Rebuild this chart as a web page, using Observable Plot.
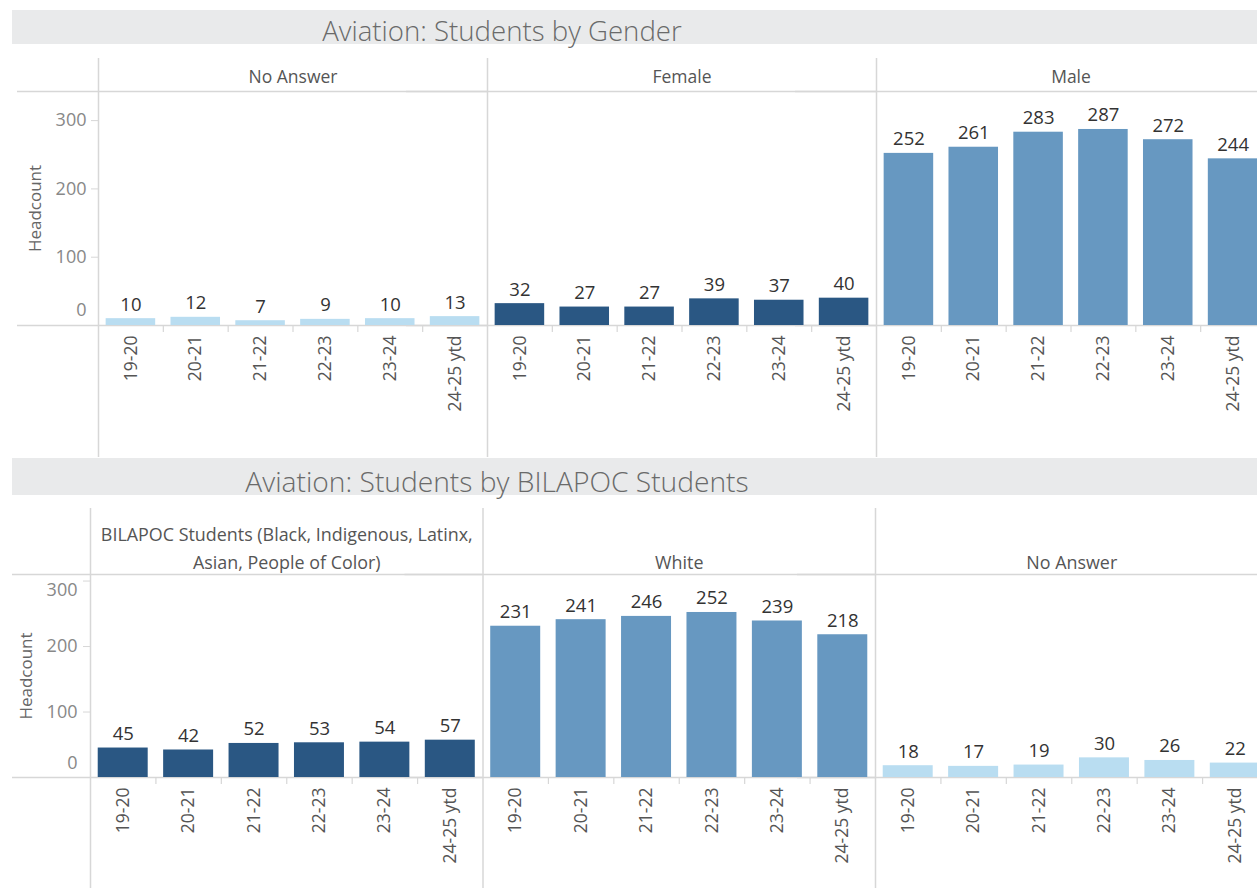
<!DOCTYPE html>
<html>
<head>
<meta charset="utf-8">
<script src="https://cdn.jsdelivr.net/npm/d3@7"></script>
<script src="https://cdn.jsdelivr.net/npm/@observablehq/plot@0.6"></script>
<style>
  html, body { margin: 0; padding: 0; background: #fff; }
  body { width: 1257px; height: 888px; overflow: hidden; position: relative; font-family: "Open Sans", sans-serif; }
  .bar { position: absolute; left: 12px; width: 1245px; background: #e9eaeb; }
  .title { position: absolute; font-weight: 300; color: #6a6a6a; line-height: 1; white-space: nowrap; transform: translateX(-50%); }
  .panel { position: absolute; left: 0; width: 1300px; }
</style>
</head>
<body>
<div class="bar" style="top:10px;height:34px"></div>
<div class="title" style="left:502px;top:17px;font-size:27.6px">Aviation: Students by Gender</div>
<div class="panel" id="p1" style="top:58px"></div>
<div class="bar" style="top:458px;height:37px"></div>
<div class="title" style="left:497px;top:467px;font-size:28.2px">Aviation: Students by BILAPOC Students</div>
<div class="panel" id="p2" style="top:508px"></div>
<script>
// ---- data ----
const years = ["19-20", "20-21", "21-22", "22-23", "23-24", "24-25 ytd"];

const genderCats = ["No Answer", "Female", "Male"];
const genderHeaders = ["No Answer", "Female", "Male"];
const genderColors = ["#b9ddf1", "#2a5783", "#6798c1"];
const genderNoAnswer = [10, 12, 7, 9, 10, 13];
const genderFemale = [32, 27, 27, 39, 37, 40];
const genderMale = [252, 261, 283, 287, 272, 244];

const raceCats = ["BILAPOC Students (Black, Indigenous, Latinx, Asian, People of Color)", "White", "No Answer"];
const raceHeaders = ["BILAPOC Students (Black, Indigenous, Latinx,\nAsian, People of Color)", "White", "No Answer"];
const raceColors = ["#2a5783", "#6798c1", "#b9ddf1"];
const raceBilapoc = [45, 42, 52, 53, 54, 57];
const raceWhite = [231, 241, 246, 252, 239, 218];
const raceNoAnswer = [18, 17, 19, 30, 26, 22];

const yTicks = [100, 200, 300];
const yLabel = "Headcount";

// ---- drawing ----
const GRID = "#d7d7d7";

function panel(o) {
  const rows = o.cats.flatMap((c, i) => years.map((y, j) => ({cat: c, year: y, value: o.series[i][j]})));
  const step = o.facetW / years.length;
  const width = o.marginLeft + o.cats.length * o.facetW;
  const height = o.headerH + o.plotH + o.bottomH;
  const firsts = o.cats.map(c => ({cat: c, year: years[0]}));
  const inner = rows.filter(d => d.year !== years[0]);
  const topTick = yTicks[yTicks.length - 1];
  return Plot.plot({
    width, height,
    marginLeft: o.marginLeft, marginRight: 0, marginTop: o.headerH, marginBottom: o.bottomH,
    style: {fontFamily: "'Open Sans', sans-serif", maxWidth: "none", overflow: "visible", background: "transparent"},
    fx: {domain: o.cats, padding: 0, round: false, axis: null},
    x: {domain: years, paddingInner: 0.236, paddingOuter: 0.118, round: false, axis: null},
    y: {domain: [0, o.yMax], axis: null},
    color: {domain: o.cats, range: o.colors},
    marks: [
      // header line and baseline
      Plot.ruleY([o.yMax], {stroke: GRID, strokeWidth: 1.5, insetLeft: -(o.marginLeft - o.lineStart)}),
      Plot.ruleY([0], {stroke: GRID, strokeWidth: 1.5, insetLeft: -(o.marginLeft - o.lineStart)}),
      // facet separators
      Plot.ruleX(firsts, {fx: "cat", x: "year", dx: -step / 2, stroke: GRID, strokeWidth: 1.5, insetTop: -o.headerH, insetBottom: -o.bottomH}),
      // small ticks between bands
      Plot.ruleX(inner, {fx: "cat", x: "year", dx: -step / 2, y1: 0, y2: 0, insetBottom: -7, stroke: GRID, strokeWidth: 1.2}),
      // bars
      Plot.barY(rows, {fx: "cat", x: "year", y: "value", fill: "cat"}),
      // value labels
      Plot.text(rows, {fx: "cat", x: "year", y: "value", text: d => String(d.value), lineAnchor: "bottom", dy: -8, fontSize: 18.5, fill: "#333"}),
      // facet headers
      Plot.text(o.cats, {fx: d => d, text: (d, i) => o.headers[i], frameAnchor: "top", lineAnchor: "bottom", dy: o.headerDy, fontSize: o.headerSize, fill: "#555", lineHeight: 1.55}),
      // x axis
      Plot.axisX({tickRotate: -90, tickSize: 0, tickPadding: 10, fontSize: 17.5, fill: "#555", label: null}),
      // y axis ticks
      Plot.axisY({ticks: yTicks, tickSize: 7, tickFormat: () => "", stroke: GRID, label: null}),
      Plot.axisY({ticks: yTicks.slice(0, -1), tickSize: 0, tickPadding: 7 + o.yPad, fontSize: 18, fill: "#888", label: null}),
      Plot.axisY({ticks: [topTick], tickSize: 0, tickPadding: 7 + o.yPad, dy: o.topDy, fontSize: 18, fill: "#888", label: null}),
      Plot.axisY({ticks: [0], tickSize: 0, tickPadding: 7 + o.yPad, dy: o.zeroDy, fontSize: 18, fill: "#888", label: null}),
      // y label
      Plot.text([{cat: o.cats[0]}], {fx: "cat", text: () => yLabel, frameAnchor: "left", textAnchor: "middle", rotate: -90, dx: o.labelDx, fontSize: 17, fill: "#666", lineAnchor: "middle"})
    ]
  });
}

document.getElementById("p1").append(panel({
  cats: genderCats, headers: genderHeaders, colors: genderColors,
  series: [genderNoAnswer, genderFemale, genderMale],
  marginLeft: 98, facetW: 389, headerH: 33, plotH: 234, bottomH: 132, yMax: 342.6,
  lineStart: 17, headerDy: -9, headerSize: 17.5, labelDx: -63, yPad: 5, zeroDy: -15, topDy: 0
}));

document.getElementById("p2").append(panel({
  cats: raceCats, headers: raceHeaders, colors: raceColors,
  series: [raceBilapoc, raceWhite, raceNoAnswer],
  marginLeft: 90, facetW: 392.5, headerH: 66, plotH: 203, bottomH: 111, yMax: 310,
  lineStart: 12, headerDy: -6, headerSize: 17.9, labelDx: -64, yPad: 6, zeroDy: -14, topDy: 9
}));
</script>
</body>
</html>
